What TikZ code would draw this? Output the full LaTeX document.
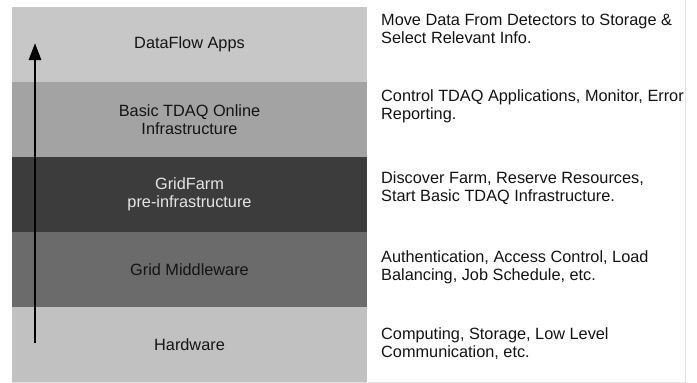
\documentclass[tikz,border=0pt]{standalone}
\usepackage{fontspec}
\setmainfont{Liberation Sans}
\usetikzlibrary{arrows.meta}
\definecolor{layerA}{HTML}{C7C7C7}
\definecolor{layerB}{HTML}{A3A3A3}
\definecolor{layerC}{HTML}{3C3C3C}
\definecolor{layerD}{HTML}{6B6B6B}
\definecolor{layerE}{HTML}{C1C1C1}
\definecolor{inktext}{HTML}{141414}
\definecolor{framegray}{HTML}{E2E2E2}
\tikzset{
layer/.style={minimum width=355pt, minimum height=75pt, inner sep=0pt,
  align=center, text=inktext, font=\fontsize{16.3}{18}\selectfont},
darklayer/.style={layer, text=white!90!black},
descr/.style={anchor=west, align=left, inner sep=0pt, text=inktext,
  font=\fontsize{16.3}{18}\selectfont}
}
\begin{document}
\begin{tikzpicture}[x=1pt, y=-1pt]
\useasboundingbox (0,0) rectangle (697,383);
\fill[white] (0,0) rectangle (697,383);
\draw[framegray, line width=0.8pt] (685,0) -- (685,382) -- (12,382);
% the layer stack
\node[layer, fill=layerA] (apps) at (189.5,44.5) {DataFlow Apps};
\node[layer, fill=layerB] (online) at (189.5,119.5) {Basic TDAQ Online\\Infrastructure};
\node[darklayer, fill=layerC] (gridfarm) at (189.5,194.5) {GridFarm\\pre-infrastructure};
\node[layer, fill=layerD] (middleware) at (189.5,269.5) {Grid Middleware};
\node[layer, fill=layerE] (hardware) at (189.5,344.5) {Hardware};
% upward arrow
\coordinate (arrowfoot) at (35,343);
\coordinate (arrowtip) at (35,43);
\draw[line width=2.8pt, -{Triangle[length=17pt,width=12pt]}] (arrowfoot) -- (arrowtip);
% descriptions
\node[descr] (appsdescr) at (381,29) {Move Data From Detectors to Storage \&\\Select Relevant Info.};
\node[descr] (onlinedescr) at (381,106) {Control TDAQ Applications, Monitor, Error\\Reporting.};
\node[descr] (gridfarmdescr) at (381,188.5) {Discover Farm, Reserve Resources,\\Start Basic TDAQ Infrastructure.};
\node[descr] (middlewaredescr) at (381,267.5) {Authentication, Access Control, Load\\Balancing, Job Schedule, etc.};
\node[descr] (hardwaredescr) at (381,344) {Computing, Storage, Low Level\\Communication, etc.};
\end{tikzpicture}
\end{document}
